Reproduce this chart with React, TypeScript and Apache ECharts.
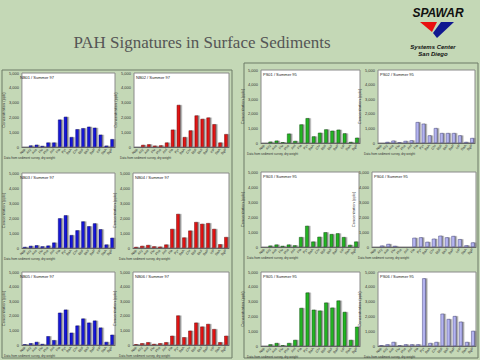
import React, { useEffect, useRef } from "react";
import * as echarts from "echarts";

const categories = ["Nap", "Acy", "Ace", "Flu", "Phe", "Ant", "Fla", "Pyr", "BaA", "Chr", "BbF", "BkF", "BaP", "IcP", "DaA", "BgP"];
const yTicks = [0, 1000, 2000, 3000, 4000, 5000];

const chartTitles = [
  "NB01 / Summer 97", "NB02 / Summer 97", "PS01 / Summer 95", "PS02 / Summer 95",
  "NB03 / Summer 97", "NB04 / Summer 97", "PS03 / Summer 95", "PS04 / Summer 95",
  "NB05 / Summer 97", "NB06 / Summer 97", "PS05 / Summer 95", "PS06 / Summer 95",
];

const siteA = [20, 100, 150, 70, 300, 300, 1850, 2040, 670, 1200, 1270, 1370, 1300, 830, 90, 530];
const siteB = [10, 140, 180, 90, 110, 300, 1170, 2840, 670, 1120, 2130, 1900, 1990, 1540, 300, 870];
const siteC = [10, 90, 160, 50, 640, 140, 1270, 1700, 450, 700, 930, 840, 910, 660, 70, 360];
const siteD = [20, 70, 160, 50, 140, 180, 1430, 1320, 520, 1020, 680, 680, 680, 520, 70, 340];
const siteE = [70, 140, 180, 110, 160, 360, 1980, 2180, 860, 1180, 1770, 1450, 1640, 1250, 230, 680];
const siteF = [70, 140, 200, 110, 90, 230, 1270, 2270, 700, 1160, 1730, 1610, 1660, 1270, 250, 730];
const siteG = [10, 90, 160, 70, 160, 110, 660, 1410, 360, 680, 980, 860, 910, 660, 140, 360];
const siteH = [10, 90, 200, 70, 20, 20, 610, 640, 340, 550, 750, 640, 730, 520, 110, 300];
const siteI = [50, 120, 210, 70, 600, 330, 2210, 2420, 840, 1330, 1810, 1530, 1670, 1190, 210, 700];
const siteJ = [50, 120, 190, 70, 120, 190, 630, 2020, 530, 980, 1530, 1260, 1440, 1090, 190, 630];
const siteK = [10, 110, 200, 50, 200, 410, 2570, 3610, 2450, 2390, 2930, 2590, 3070, 2300, 410, 1300];
const siteL = [50, 110, 270, 50, 110, 110, 110, 4570, 200, 270, 2180, 1820, 2020, 1640, 270, 1020];

const allSites = [siteA, siteB, siteC, siteD, siteE, siteF, siteG, siteH, siteI, siteJ, siteK, siteL];

// layout (left, top, width, height) of each small plot
const gridBoxes = [
  [18, 73, 97, 74], [134, 73, 95, 74], [261, 70, 99, 73], [378, 70, 97, 73],
  [18, 173, 97, 75], [133, 173, 96, 75], [261, 172, 98, 75], [372, 172, 104, 75],
  [18, 272, 97, 73], [133, 272, 96, 73], [261, 272, 99, 74], [378, 272, 98, 74],
];
const colStyles = [
  { color: "#1414d8", border: "#0a0a70" },
  { color: "#e01212", border: "#700808" },
  { color: "#22b422", border: "#0c500c" },
  { color: "#b4b4f0", border: "#4a4a80" },
];

export default function App() {
  const ref = useRef<HTMLDivElement>(null);
  useEffect(() => {
    if (!ref.current) return;
    const chart = echarts.init(ref.current, null, { renderer: "svg" });
    const tiny = "Liberation Sans";
    const grid = gridBoxes.map(([l, t, w, h]) => ({
      left: l, top: t, width: w, height: h,
      show: true, backgroundColor: "#ffffff", borderColor: "#8a8a8a", borderWidth: 1,
    }));
    const xAxis = gridBoxes.map((_, i) => ({
      type: "category", gridIndex: i, data: categories,
      axisTick: { show: false },
      axisLine: { lineStyle: { color: "#666", width: 1 } },
      axisLabel: { interval: 0, rotate: 50, fontSize: 3.5, color: "#333", fontFamily: tiny, margin: 2 },
    }));
    const yAxis = gridBoxes.map((_, i) => ({
      type: "value", gridIndex: i, min: 0, max: 5000, interval: 1000,
      name: "Concentration (ppb)", nameLocation: "middle", nameGap: 12, nameRotate: 90,
      nameTextStyle: { fontSize: 4, color: "#333", fontFamily: tiny },
      splitLine: { show: false }, axisTick: { show: false }, axisLine: { show: false },
      axisLabel: {
        fontSize: 4, color: "#333", fontFamily: tiny, margin: 3,
        formatter: (v: number) => (yTicks.includes(v) ? v.toLocaleString("en-US") : ""),
      },
    }));
    const series = allSites.map((d, i) => {
      const c = colStyles[i % 4];
      return {
        type: "bar", xAxisIndex: i, yAxisIndex: i, data: d, barWidth: "58%",
        itemStyle: {
          color: c.color, borderColor: c.border, borderWidth: 0.5,
          shadowColor: "rgba(110,110,110,0.8)", shadowOffsetX: 1.5, shadowOffsetY: 0, shadowBlur: 0,
        },
      };
    });
    const graphic: any[] = [
      { type: "rect", shape: { x: 2, y: 70, width: 230, height: 288 }, style: { fill: "none", stroke: "#6c7a66", lineWidth: 1 } },
      { type: "rect", shape: { x: 244, y: 63, width: 234, height: 295 }, style: { fill: "none", stroke: "#6c7a66", lineWidth: 1 } },
      {
        type: "text", x: 202, y: 42,
        style: { text: "PAH Signatures in Surface Sediments", font: "17px 'Liberation Serif'", fill: "#555555", align: "center", verticalAlign: "middle" },
      },
      {
        type: "text", x: 438, y: 13,
        style: { text: "SPAWAR", font: "italic bold 12px 'Liberation Sans'", fill: "#111", align: "center", verticalAlign: "middle" },
      },
      { type: "polygon", shape: { points: [[420, 22], [437, 22], [432, 32]] }, style: { fill: "#e81010" } },
      { type: "polygon", shape: { points: [[441, 22], [454, 22], [437, 38], [433, 33]] }, style: { fill: "#101890" } },
      {
        type: "text", x: 433, y: 47,
        style: { text: "Systems Center", font: "italic bold 6px 'Liberation Sans'", fill: "#111", align: "center", verticalAlign: "middle" },
      },
      {
        type: "text", x: 433, y: 54,
        style: { text: "San Diego", font: "italic bold 6px 'Liberation Sans'", fill: "#111", align: "center", verticalAlign: "middle" },
      },
    ];
    gridBoxes.forEach(([l, t, w, h], i) => {
      graphic.push({
        type: "text", x: l + 2, y: t + 2,
        style: { text: chartTitles[i], font: "4px 'Liberation Sans'", fill: "#222" },
      });
      graphic.push({
        type: "text", x: l - 14, y: t + h + 9,
        style: { text: "Data from sediment survey, dry weight", font: "3px 'Liberation Sans'", fill: "#333" },
      });
    });
    chart.setOption({
      animation: false,
      backgroundColor: "#c4d8b6",
      grid, xAxis, yAxis, series, graphic,
    });
    return () => chart.dispose();
  }, []);
  return <div ref={ref} style={{ position: "fixed", left: 0, top: 0, width: 480, height: 360 }} />;
}
